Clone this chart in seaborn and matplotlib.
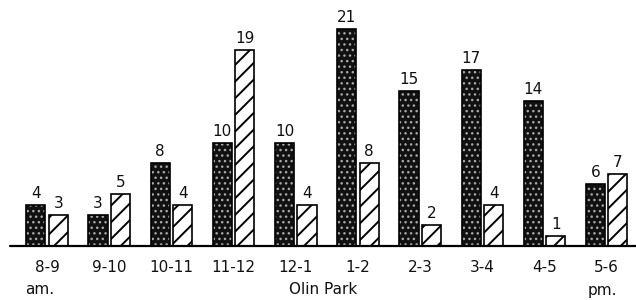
import matplotlib
matplotlib.use('Agg')
import matplotlib.pyplot as plt
import seaborn as sns
import pandas as pd
from matplotlib.patches import Rectangle

periods = ["8-9", "9-10", "10-11", "11-12", "12-1", "1-2", "2-3", "3-4", "4-5", "5-6"]
dark_values = [4, 3, 8, 10, 10, 21, 15, 17, 14, 6]
hatched_values = [3, 5, 4, 19, 4, 8, 2, 4, 1, 7]
series_names = ["Series 1", "Series 2"]
xlabel_text = "Olin Park"
am_label = "am."
pm_label = "pm."

sns.set_theme(style="white")
plt.rcParams['font.family'] = ['DejaVu Sans']
plt.rcParams['hatch.linewidth'] = 1.4

df = pd.DataFrame({
    "period": periods * 2,
    "count": dark_values + hatched_values,
    "series": [series_names[0]] * len(periods) + [series_names[1]] * len(periods),
})

fig = plt.figure(figsize=(6.36, 3.0), dpi=100)
ax = fig.add_axes([10 / 636, 54 / 300, 626 / 636, 246 / 300])
sns.barplot(data=df, x="period", y="count", hue="series", order=periods,
            hue_order=series_names, palette=["#111111", "white"], saturation=1,
            width=0.72, gap=0.15, edgecolor="black", linewidth=1.2,
            legend=False, errorbar=None, ax=ax)

dark_c, hatch_c = ax.containers[0], ax.containers[1]
for bar in dark_c:
    bar.set_hatch('...')
    bar.set_edgecolor('#a8a8a8')
    bar.set_linewidth(0)
    if hasattr(bar, 'set_hatch_linewidth'):
        bar.set_hatch_linewidth(1.0)
    ax.add_patch(Rectangle(bar.get_xy(), bar.get_width(), bar.get_height(),
                           fill=False, edgecolor='black', linewidth=1.2))
for bar in hatch_c:
    bar.set_hatch('//')

for c in (dark_c, hatch_c):
    ax.bar_label(c, fontsize=11, padding=3, color='#111111')

ax.set_xlim(-0.595, 9.47)
ax.set_ylim(0, 246 / 10.33)
ax.axhline(0, color='black', linewidth=1.6, clip_on=False)
ax.set_yticks([])
ax.set_ylabel('')
ax.tick_params(axis='x', length=0, pad=10, labelsize=11, colors='#111111')
sns.despine(ax=ax, left=True, bottom=True)

ax.set_xlabel(xlabel_text, fontsize=11, color='#111111')
ax.xaxis.set_label_coords(0.5, -44 / 246)
ax.xaxis.label.set_va('center')

ax.annotate(am_label, xy=(0, 0), xycoords='data', xytext=(-5, -44 * 0.72),
            textcoords='offset points', ha='center', va='center', fontsize=11,
            color='#111111', annotation_clip=False)
ax.annotate(pm_label, xy=(len(periods) - 1, 0), xycoords='data', xytext=(-3, -44 * 0.72),
            textcoords='offset points', ha='center', va='center', fontsize=11,
            color='#111111', annotation_clip=False)

fig.savefig("out.png", dpi=100)
